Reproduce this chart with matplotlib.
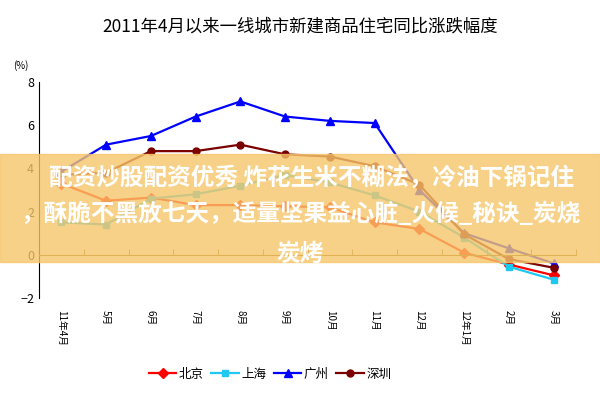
import matplotlib.pyplot as plt
from matplotlib.patches import Rectangle

plt.rcParams['font.family'] = 'Noto Sans CJK SC'

months = ['11年4月', '5月', '6月', '7月', '8月', '9月', '10月', '11月', '12月', '12年1月', '2月', '3月']
beijing = [3.3, 2.5, 2.65, 2.3, 2.3, 2.25, 2.2, 1.5, 1.2, 0.1, -0.45, -0.95]
shanghai = [1.5, 1.4, 2.6, 2.8, 3.2, 3.7, 3.35, 2.75, 2.0, 0.8, -0.55, -1.15]
guangzhou = [3.85, 5.1, 5.5, 6.4, 7.1, 6.4, 6.2, 6.1, 3.0, 1.0, 0.3, -0.4]
shenzhen = [3.7, 3.8, 4.8, 4.8, 5.1, 4.65, 4.55, 4.1, 3.25, 0.95, -0.2, -0.6]

fig = plt.figure(figsize=(6, 4), dpi=100)
ax = fig.add_axes([0.065, 0.255, 0.895, 0.54])
x = list(range(len(months)))
ax.plot(x, beijing, color='#ff0000', marker='D', ms=5, lw=1.6, label='北京')
ax.plot(x, shanghai, color='#1fc8f0', marker='s', ms=5, lw=1.6, label='上海')
ax.plot(x, guangzhou, color='#0000ff', marker='^', ms=6, lw=1.6, label='广州')
ax.plot(x, shenzhen, color='#7a0000', marker='o', ms=5, lw=1.6, label='深圳')

ax.set_xlim(-0.5, len(months) - 0.5)
ax.set_ylim(-2, 8)
ax.set_yticks([-2, 0, 2, 4, 6, 8])
ax.tick_params(axis='y', length=0, labelsize=9)
ax.spines['top'].set_visible(False)
ax.spines['right'].set_visible(False)
ax.spines['bottom'].set_position(('data', 0))
ax.spines['bottom'].set_color('#806000')
ax.set_xticks([i - 0.5 for i in range(len(months) + 1)], minor=True)
ax.tick_params(axis='x', which='minor', direction='in', length=4, color='#806000')
ax.set_xticks(x)
ax.set_xticklabels(months, rotation=270, fontsize=7)
ax.tick_params(axis='x', which='major', length=0, pad=40)
ax.text(-0.02, 1.06, '(%)', transform=ax.transAxes, fontsize=7, ha='right')

fig.suptitle('2011年4月以来一线城市新建商品住宅同比涨跌幅度', y=0.955, fontsize=12.5)
fig.legend(loc='lower center', bbox_to_anchor=(0.45, 0.02), ncol=4, frameon=False,
           fontsize=9, handlelength=2.2, columnspacing=0.6, handletextpad=0.2)

# semi-transparent banner over the chart
fig.patches.append(Rectangle((0, 0.345), 1, 0.27, transform=fig.transFigure,
                             color='#f7c66a', alpha=0.8, zorder=5))
fig.text(0.52, 0.555, '配资炒股配资优秀 炸花生米不糊法，冷油下锅记住', ha='center', va='center',
         color='white', fontsize=17, fontweight='bold', zorder=6)
fig.text(0.5, 0.465, '，酥脆不黑放七天，适量坚果益心脏_火候_秘诀_炭烧', ha='center', va='center',
         color='white', fontsize=17, fontweight='bold', zorder=6)
fig.text(0.5, 0.365, '炭烤', ha='center', va='center', color='white', fontsize=17,
         fontweight='bold', zorder=6)

fig.savefig('out.png', dpi=100)
